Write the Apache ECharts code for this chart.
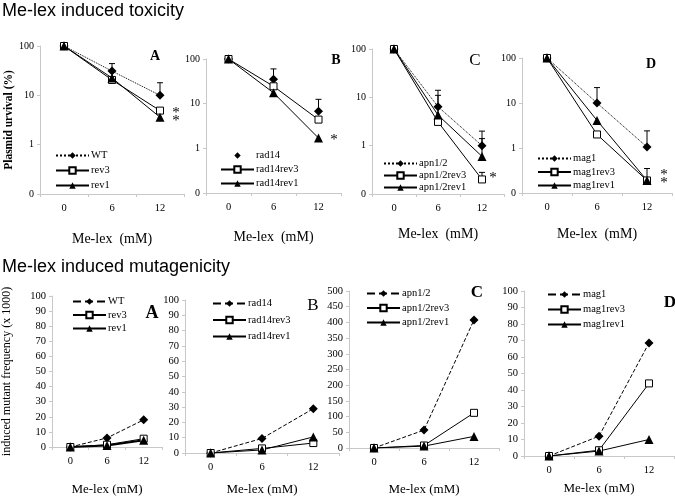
<!DOCTYPE html>
<html>
<head>
<meta charset="utf-8">
<script src="https://cdn.jsdelivr.net/npm/echarts@6/dist/echarts.min.js"></script>
<style>
  html, body { margin: 0; padding: 0; background: #fff; }
  #chart { width: 675px; height: 497px; }
</style>
</head>
<body>
<div id="chart"></div>
<script>
// doses of Me-lex (mM)
const doses = ['0', '6', '12'];

// toxicity, plasmid survival (%) - log scale
const toxWT = [100, 31, 10];
const toxWTErr = [null, 44, 18];
const toxRev3 = [100, 20.5, 4.9];
const toxRev1 = [100, 22.5, 3.6];

const toxRad14 = [100, 35, 6.8];
const toxRad14Err = [null, 60, 12.5];
const toxRad14Rev3 = [100, 24.5, 4.4];
const toxRad14Rev1 = [100, 17.5, 1.7];

const toxApn = [100, 6.4, 1.0];
const toxApnErr = [null, 14, 2.0];
const toxApnRev3 = [100, 3.1, 0.2];
const toxApnRev3Err = [null, null, 0.28];
const toxApnRev1 = [100, 4.3, 0.6];
const toxApnRev1Err = [null, 11, 1.4];

const toxMag = [100, 10, 1.05];
const toxMagErr = [null, 22, 2.4];
const toxMagRev3 = [100, 2.0, 0.19];
const toxMagRev1 = [100, 4.1, 0.19];
const toxMagRev1Err = [null, null, 0.35];

// mutagenicity, induced mutant frequency (x 1000)
const mutWT = [0, 6, 18];
const mutRev3 = [0, 1.5, 5.5];
const mutRev1 = [0, 1, 4.5];

const mutRad14 = [0, 9.5, 29];
const mutRad14Rev3 = [0, 3, 6.5];
const mutRad14Rev1 = [0, 2, 10.5];

const mutApn = [0, 57, 408];
const mutApnRev3 = [0, 8, 112];
const mutApnRev1 = [0, 6, 37];

const mutMag = [0, 12, 68.5];
const mutMagRev3 = [0, 3.5, 44];
const mutMagRev1 = [0, 3, 10];

const serif = 'Liberation Serif';
const sans = 'Liberation Sans';

const chart = echarts.init(document.getElementById('chart'));

// panel boxes: 4 toxicity on top, 4 mutagenicity below
const grids = [
  { left: 40, top: 46, width: 144, height: 148 },
  { left: 206, top: 59, width: 135, height: 134 },
  { left: 372, top: 49, width: 132, height: 145 },
  { left: 522, top: 58, width: 150, height: 135 },
  { left: 49, top: 296, width: 113, height: 154 },
  { left: 185, top: 300, width: 154, height: 153 },
  { left: 349, top: 291, width: 150, height: 162 },
  { left: 524, top: 291, width: 150, height: 165 }
];
const xNameGaps = [38, 37, 33, 34, 36, 30, 35, 26];

const xAxes = grids.map((g, i) => ({
  type: 'category',
  gridIndex: i,
  data: doses,
  boundaryGap: true,
  name: i < 4 ? 'Me-lex  (mM)' : 'Me-lex (mM)',
  nameLocation: 'middle',
  nameGap: xNameGaps[i],
  nameTextStyle: { fontFamily: serif, fontSize: i < 4 ? 14 : 13, color: '#000' },
  axisLine: { lineStyle: { color: '#c8c8c8', width: 1 } },
  axisTick: { show: true, interval: 0, length: 3, lineStyle: { color: '#c8c8c8' } },
  axisLabel: { fontFamily: serif, fontSize: 10.5, color: '#000', margin: 9 },
  splitLine: { show: false }
}));

const yAxes = grids.map((g, i) => {
  const base = {
    gridIndex: i,
    axisLine: { show: true, lineStyle: { color: '#c8c8c8', width: 1 } },
    axisTick: { show: true, length: 3, lineStyle: { color: '#c8c8c8' } },
    axisLabel: { fontFamily: serif, fontSize: 10, color: '#000', margin: 6 },
    splitLine: { show: false }
  };
  if (i < 4) {
    Object.assign(base, {
      type: 'log', logBase: 10, min: 0.1, max: 100,
      axisLabel: Object.assign({}, base.axisLabel, {
        formatter: v => (v < 1 ? '0' : String(Math.round(v)))
      })
    });
    if (i === 0) {
      base.name = 'Plasmid urvival (%)';
      base.nameLocation = 'middle';
      base.nameGap = 25;
      base.nameTextStyle = { fontFamily: serif, fontSize: 11.5, fontWeight: 'bold', color: '#000' };
    }
  } else {
    const top = i === 6 ? 500 : 100;
    Object.assign(base, { type: 'value', min: 0, max: top, interval: top / 10 });
    base.axisLabel.fontSize = 10.5;
    if (i === 4) {
      base.name = 'induced mutant frequency (x 1000)';
      base.nameLocation = 'middle';
      base.nameGap = 39;
      base.nameTextStyle = { fontFamily: serif, fontSize: 12, color: '#000' };
    }
  }
  return base;
});

// [panel, series name, values, line type, marker, show line]
const lineDefs = [
  [0, 'tox:WT', toxWT, 'dotted', 'diamond'],
  [0, 'tox:rev3', toxRev3, 'solid', 'square'],
  [0, 'tox:rev1', toxRev1, 'solid', 'triangle'],
  [1, 'tox:rad14', toxRad14, 'solid', 'diamond', false],
  [1, 'tox:rad14rev3', toxRad14Rev3, 'solid', 'square'],
  [1, 'tox:rad14rev1', toxRad14Rev1, 'solid', 'triangle'],
  [2, 'tox:apn1/2', toxApn, 'dotted', 'diamond'],
  [2, 'tox:apn1/2rev3', toxApnRev3, 'solid', 'square'],
  [2, 'tox:apn1/2rev1', toxApnRev1, 'solid', 'triangle'],
  [3, 'tox:mag1', toxMag, 'dotted', 'diamond'],
  [3, 'tox:mag1rev3', toxMagRev3, 'solid', 'square'],
  [3, 'tox:mag1rev1', toxMagRev1, 'solid', 'triangle'],
  [4, 'mut:WT', mutWT, 'dashed', 'diamond'],
  [4, 'mut:rev3', mutRev3, 'solid', 'square'],
  [4, 'mut:rev1', mutRev1, 'solid', 'triangle'],
  [5, 'mut:rad14', mutRad14, 'dashed', 'diamond'],
  [5, 'mut:rad14rev3', mutRad14Rev3, 'solid', 'square'],
  [5, 'mut:rad14rev1', mutRad14Rev1, 'solid', 'triangle'],
  [6, 'mut:apn1/2', mutApn, 'dashed', 'diamond'],
  [6, 'mut:apn1/2rev3', mutApnRev3, 'solid', 'square'],
  [6, 'mut:apn1/2rev1', mutApnRev1, 'solid', 'triangle'],
  [7, 'mut:mag1', mutMag, 'dashed', 'diamond'],
  [7, 'mut:mag1rev3', mutMagRev3, 'solid', 'square'],
  [7, 'mut:mag1rev1', mutMagRev1, 'solid', 'triangle']
];

const series = lineDefs.map(([p, name, values, type, marker, showLine]) => {
  const open = marker === 'square';
  return {
    type: 'line',
    name: name,
    xAxisIndex: p,
    yAxisIndex: p,
    data: values,
    symbol: open ? 'rect' : marker,
    symbolSize: open ? 7 : 9,
    showSymbol: true,
    z: 3,
    lineStyle: {
      color: '#000',
      width: p === 4 && !open && type === 'solid' ? 2 : 1,
      type: type,
      opacity: showLine === false ? 0 : 1
    },
    itemStyle: open ? { color: '#fff', borderColor: '#000', borderWidth: 1 } : { color: '#000' }
  };
});

// one-sided error bars: [panel, values, upper ends]
const errDefs = [
  [0, toxWT, toxWTErr],
  [1, toxRad14, toxRad14Err],
  [2, toxApn, toxApnErr],
  [2, toxApnRev3, toxApnRev3Err],
  [2, toxApnRev1, toxApnRev1Err],
  [3, toxMag, toxMagErr],
  [3, toxMagRev1, toxMagRev1Err]
];

errDefs.forEach(([p, values, upper]) => {
  const data = [];
  upper.forEach((u, k) => { if (u != null) data.push([k, u, values[k]]); });
  series.push({
    type: 'custom',
    name: 'err',
    xAxisIndex: p,
    yAxisIndex: p,
    z: 2,
    data: data,
    encode: { x: 0, y: [1, 2] },
    renderItem: function (params, api) {
      const top = api.coord([api.value(0), api.value(1)]);
      const base = api.coord([api.value(0), api.value(2)]);
      const st = { stroke: '#000', lineWidth: 1 };
      return {
        type: 'group',
        children: [
          { type: 'line', shape: { x1: top[0], y1: top[1], x2: base[0], y2: base[1] }, style: st },
          { type: 'line', shape: { x1: top[0] - 3, y1: top[1], x2: top[0] + 3, y2: top[1] }, style: st }
        ]
      };
    }
  });
});

// legends for each panel
const legendPos = [
  { left: 55, top: 150, gap: 4 },
  { left: 220, top: 150, gap: 3 },
  { left: 383, top: 158, gap: 1 },
  { left: 537, top: 153, gap: 2.5 },
  { left: 72, top: 296, gap: 2.5 },
  { left: 212, top: 298, gap: 5.5 },
  { left: 366, top: 288, gap: 3.5 },
  { left: 547, top: 289, gap: 4 }
];
const legends = legendPos.map((lp, p) => ({
  orient: 'vertical',
  left: lp.left,
  top: lp.top,
  itemGap: lp.gap,
  itemWidth: 33,
  itemHeight: 8,
  padding: 0,
  selectedMode: false,
  formatter: n => n.split(':')[1],
  textStyle: { fontFamily: serif, fontSize: 10.5, color: '#000', lineHeight: 10, padding: [0, 0, 0, -3] },
  data: lineDefs.filter(d => d[0] === p).map(d => d[1])
}));

function txt(x, y, s, size, opts) {
  return {
    type: 'text', x: x, y: y, silent: true,
    style: Object.assign({ text: s, fontFamily: serif, fontSize: size, fill: '#000', align: 'center', verticalAlign: 'middle' }, opts || {})
  };
}

const graphics = [
  txt(2, 11, 'Me-lex induced toxicity', 18, { fontFamily: sans, align: 'left' }),
  txt(2, 267, 'Me-lex induced mutagenicity', 18, { fontFamily: sans, align: 'left' }),
  // panel letters
  txt(155, 56, 'A', 14, { fontWeight: 'bold' }),
  txt(336, 60, 'B', 14, { fontWeight: 'bold' }),
  txt(475, 61, 'C', 17),
  txt(651, 64, 'D', 14, { fontWeight: 'bold' }),
  txt(152, 313, 'A', 18, { fontWeight: 'bold' }),
  txt(313, 306, 'B', 17),
  txt(477, 293, 'C', 17, { fontWeight: 'bold' }),
  txt(670, 303, 'D', 17, { fontWeight: 'bold' }),
  // significance marks
  txt(176, 113, '*', 15),
  txt(176, 121, '*', 15),
  txt(334, 140, '*', 15),
  txt(493, 178, '*', 15),
  txt(664, 175, '*', 15),
  txt(664, 183, '*', 15)
];

chart.setOption({
  animation: false,
  backgroundColor: '#fff',
  grid: grids,
  xAxis: xAxes,
  yAxis: yAxes,
  legend: legends,
  series: series,
  graphic: graphics
});
</script>
</body>
</html>
